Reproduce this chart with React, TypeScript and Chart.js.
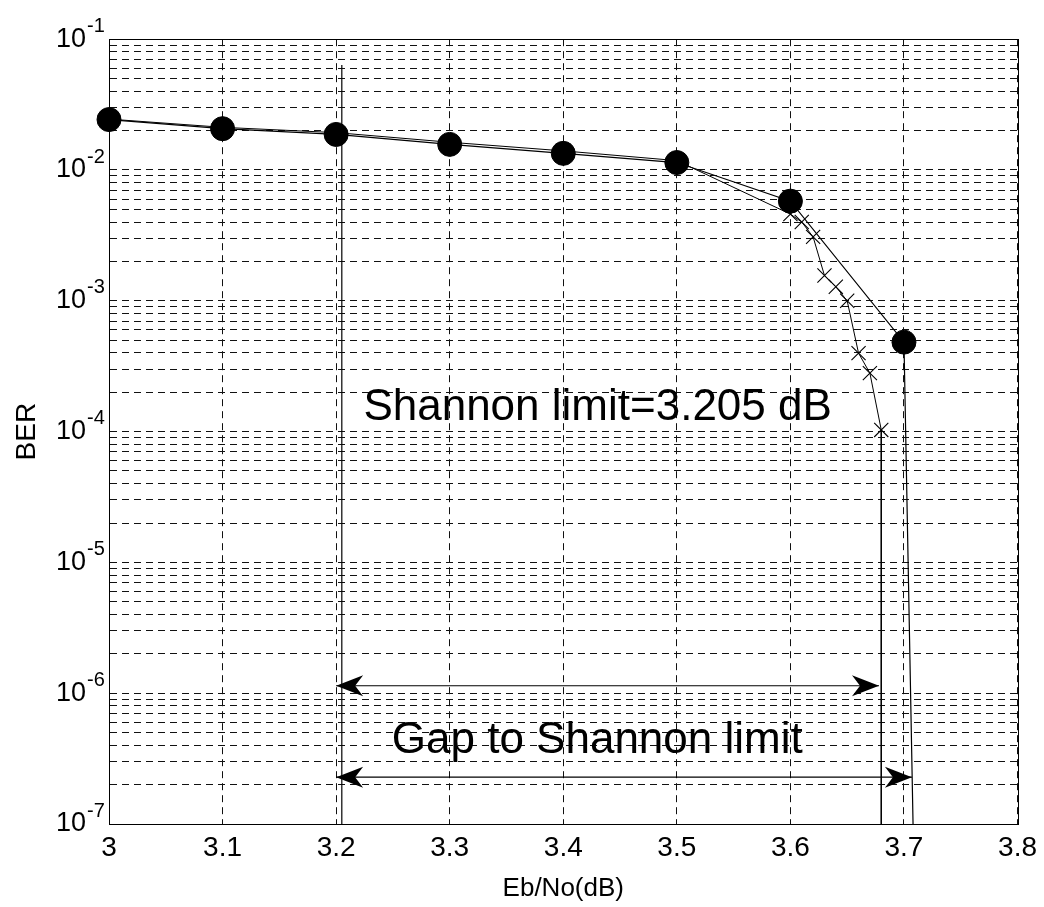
import React, { useEffect, useRef } from 'react';
import { Chart, registerables } from 'chart.js';

Chart.register(...registerables);

// ---- data ----
const X_TICKS = [3, 3.1, 3.2, 3.3, 3.4, 3.5, 3.6, 3.7, 3.8];
const X_TICK_LABELS = ['3', '3.1', '3.2', '3.3', '3.4', '3.5', '3.6', '3.7', '3.8'];
const Y_DECADES = [1e-7, 1e-6, 1e-5, 1e-4, 1e-3, 1e-2, 1e-1];
const Y_DECADE_EXPONENTS = ['-7', '-6', '-5', '-4', '-3', '-2', '-1'];
const Y_MINOR_MULTIPLIERS = [2, 3, 4, 5, 6, 7, 8, 9];

const CIRCLE_X = [3.0, 3.1, 3.2, 3.3, 3.4, 3.5, 3.6, 3.7, 3.708];
const CIRCLE_BER = [0.0243, 0.0207, 0.0187, 0.0157, 0.0134, 0.0114, 0.00578, 0.000483, 1e-7];

const CROSS_X = [3.0, 3.1, 3.2, 3.3, 3.4, 3.5, 3.6, 3.61, 3.62, 3.63, 3.64, 3.65, 3.66, 3.67, 3.68, 3.68];
const CROSS_BER = [0.0245, 0.0212, 0.0193, 0.0163, 0.014, 0.0118, 0.0046, 0.004, 0.00308, 0.00156, 0.00128, 0.001, 0.000398, 0.00028, 0.000103, 1e-7];

const SHANNON_X = [3.205, 3.205];
const SHANNON_BER = [0.0635, 1e-7];

const ARROW_X_FROM = [3.2, 3.2];
const ARROW_X_TO = [3.678, 3.707];
const ARROW_BER = [1.14e-6, 2.28e-7];

const NOTE_TEXT = ['Shannon limit=3.205 dB', 'Gap to Shannon limit'];
const NOTE_X = [3.224, 3.249];
const NOTE_BER = [1.23e-4, 3.46e-7];

const X_TITLE = 'Eb/No(dB)';
const Y_TITLE = 'BER';

// ---- helpers ----
const FONT = "'Liberation Sans', Arial, Helvetica, sans-serif";
const Y_TICK_VALUES: number[] = [];
Y_DECADES.forEach((d, i) => {
  Y_TICK_VALUES.push(d);
  if (i < Y_DECADES.length - 1) Y_MINOR_MULTIPLIERS.forEach((m) => Y_TICK_VALUES.push(m * d));
});
const isDecade = (v: number) => Math.abs(Math.log10(v) - Math.round(Math.log10(v))) < 1e-6;

function arrowHead(ctx: CanvasRenderingContext2D, tipX: number, y: number, dir: number) {
  const L = 27, W = 10.5, N = 8;
  ctx.beginPath();
  ctx.moveTo(tipX, y);
  ctx.lineTo(tipX - dir * L, y - W);
  ctx.lineTo(tipX - dir * (L - N), y);
  ctx.lineTo(tipX - dir * L, y + W);
  ctx.closePath();
  ctx.fill();
}

const overlayPlugin = {
  id: 'overlay',
  afterDatasetsDraw(chart: any) {
    const { ctx, scales } = chart;
    const xs = scales.x, ys = scales.y;
    ctx.save();
    ctx.strokeStyle = '#000';
    ctx.fillStyle = '#000';
    ctx.lineWidth = 1.2;
    ARROW_BER.forEach((b, i) => {
      const y = ys.getPixelForValue(b);
      const x1 = xs.getPixelForValue(ARROW_X_FROM[i]);
      const x2 = xs.getPixelForValue(ARROW_X_TO[i]);
      ctx.beginPath();
      ctx.moveTo(x1, y);
      ctx.lineTo(x2, y);
      ctx.stroke();
      arrowHead(ctx, x1, y, -1);
      arrowHead(ctx, x2, y, 1);
    });
    ctx.font = `44px ${FONT}`;
    ctx.textAlign = 'left';
    ctx.textBaseline = 'alphabetic';
    NOTE_TEXT.forEach((t, i) => {
      ctx.fillText(t, xs.getPixelForValue(NOTE_X[i]), ys.getPixelForValue(NOTE_BER[i]));
    });
    ctx.restore();
  },
  afterDraw(chart: any) {
    const { ctx, chartArea, scales } = chart;
    ctx.save();
    ctx.strokeStyle = '#000';
    ctx.lineWidth = 1;
    ctx.setLineDash([]);
    ctx.strokeRect(
      Math.round(chartArea.left) + 0.5,
      Math.round(chartArea.top) + 0.5,
      Math.round(chartArea.right - chartArea.left),
      Math.round(chartArea.bottom - chartArea.top)
    );
    ctx.fillStyle = '#000';
    ctx.font = `20px ${FONT}`;
    ctx.textAlign = 'left';
    ctx.textBaseline = 'middle';
    Y_DECADES.forEach((d, i) => {
      const y = scales.y.getPixelForValue(d);
      ctx.fillText(Y_DECADE_EXPONENTS[i], 87, y - 13);
    });
    ctx.restore();
  },
};

export default function App() {
  const ref = useRef<HTMLCanvasElement | null>(null);

  useEffect(() => {
    const prevMargin = document.body.style.margin;
    document.body.style.margin = '0';
    const canvas = ref.current;
    if (!canvas) return;

    const chart = new Chart(canvas, {
      type: 'line',
      data: {
        datasets: [
          {
            label: 'circles',
            data: CIRCLE_X.map((x, i) => ({ x, y: CIRCLE_BER[i] })),
            borderColor: '#000',
            borderWidth: 1.2,
            pointStyle: 'circle',
            pointRadius: CIRCLE_X.map((_, i) => (i === CIRCLE_X.length - 1 ? 0 : 12)),
            pointBackgroundColor: '#000',
            pointBorderColor: '#000',
            pointBorderWidth: 1,
            tension: 0,
            clip: false,
          } as any,
          {
            label: 'crosses',
            data: CROSS_X.map((x, i) => ({ x, y: CROSS_BER[i] })),
            borderColor: '#000',
            borderWidth: 1,
            pointStyle: 'crossRot',
            pointRadius: CROSS_X.map((_, i) => (i === CROSS_X.length - 1 ? 0 : 10)),
            pointBorderColor: '#000',
            pointBackgroundColor: '#000',
            pointBorderWidth: 1.1,
            tension: 0,
            clip: false,
          } as any,
          {
            label: 'shannon',
            data: SHANNON_X.map((x, i) => ({ x, y: SHANNON_BER[i] })),
            borderColor: '#000',
            borderWidth: 1.2,
            pointRadius: 0,
            tension: 0,
          } as any,
        ],
      },
      options: {
        animation: false,
        responsive: false,
        devicePixelRatio: 1,
        layout: { padding: { left: 0, top: 34, right: 25, bottom: 0 } },
        plugins: {
          legend: { display: false },
          tooltip: { enabled: false },
        },
        scales: {
          x: {
            type: 'linear',
            min: 3,
            max: 3.8,
            afterFit: (s: any) => {
              s.height = 83;
            },
            ticks: {
              stepSize: 0.1,
              autoSkip: false,
              maxRotation: 0,
              padding: 7,
              color: '#000',
              font: { family: FONT, size: 28 },
              callback: (v: any) => {
                const i = X_TICKS.findIndex((t) => Math.abs(t - Number(v)) < 1e-6);
                return i >= 0 ? X_TICK_LABELS[i] : '';
              },
            },
            grid: { color: '#111', lineWidth: 1, drawTicks: false },
            border: { display: true, color: '#000', width: 1, dash: [7, 5] },
            title: {
              display: true,
              text: X_TITLE,
              color: '#000',
              font: { family: FONT, size: 26 },
              padding: { top: 0, bottom: 3 },
            },
          },
          y: {
            type: 'logarithmic',
            min: 1e-7,
            max: 1e-1,
            afterBuildTicks: (s: any) => {
              s.ticks = Y_TICK_VALUES.map((v) => ({ value: v, major: isDecade(v) }));
            },
            afterFit: (s: any) => {
              s.width = 109;
            },
            ticks: {
              autoSkip: false,
              padding: 23,
              color: '#000',
              font: { family: FONT, size: 27 },
              callback: (v: any) => (isDecade(Number(v)) ? '10' : ''),
            },
            grid: { color: '#111', lineWidth: 1, drawTicks: false },
            border: { display: true, color: '#000', width: 1, dash: [7, 5] },
            title: {
              display: true,
              text: Y_TITLE,
              color: '#000',
              font: { family: FONT, size: 28 },
              padding: { top: 10, bottom: 0 },
            },
          },
        },
      } as any,
      plugins: [overlayPlugin],
    });

    return () => {
      chart.destroy();
      document.body.style.margin = prevMargin;
    };
  }, []);

  return (
    <canvas
      ref={ref}
      width={1044}
      height={907}
      style={{ display: 'block', width: 1044, height: 907 }}
    />
  );
}
